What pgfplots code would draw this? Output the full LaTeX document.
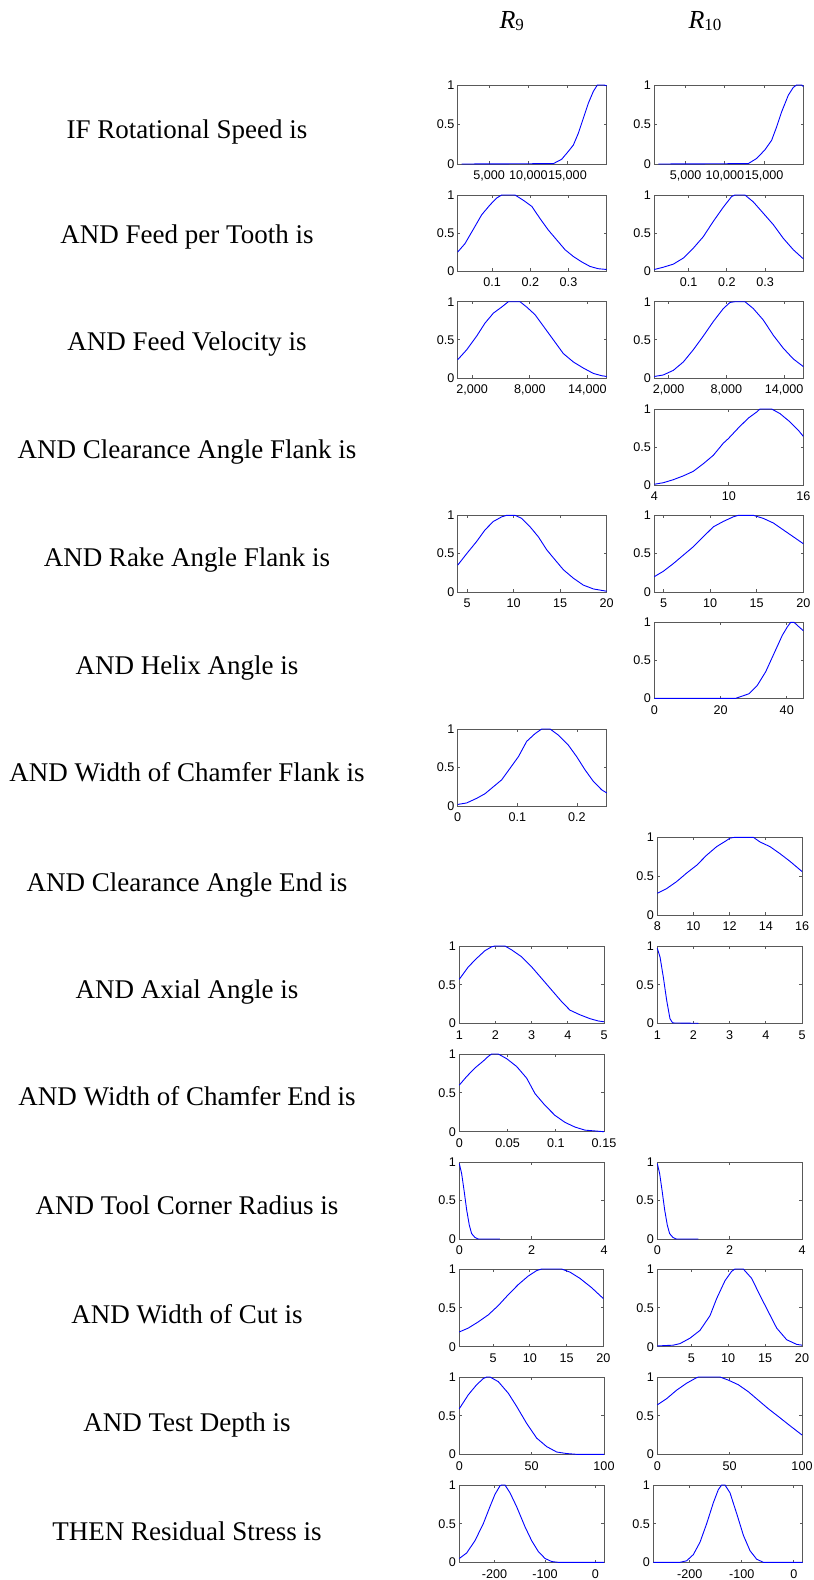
\documentclass[border=0pt]{standalone}
\usepackage{fontspec}
\setmainfont{Liberation Serif}
\newfontfamily\tickfamily{Liberation Sans}
\usepackage{pgfplots}
\pgfplotsset{compat=1.18}
\newcommand\tickfont{\tickfamily\fontsize{6.3}{7}\selectfont}
\newcommand\labfont{\fontsize{13.5}{16}\selectfont}
\pgfplotsset{
  fz/.style={scale only axis, anchor=north west, ymin=0, ymax=1,
    ytick={0,0.5,1}, yticklabels={0,0.5,1}, scaled ticks=false,
    axis line style={draw=black!65, line width=0.5pt},
    tick style={draw=black!65, line width=0.4pt}, major tick length=1.3pt,
    tick align=inside, tick label style={font=\tickfont},
    yticklabel style={inner sep=1.5pt},
    clip=false},
  cur/.style={blue, line width=0.45pt, mark=none}
}
\begin{document}
\begin{tikzpicture}
\useasboundingbox (0,0) rectangle (407pt,-790pt);
% titles
\node[anchor=base] at (255.85pt,-14.15pt) {\fontsize{13}{15}\selectfont\textit{R}\raisebox{-1.2pt}{\fontsize{8.5}{10}\selectfont 9}};
\node[anchor=base] at (352.5pt,-14.15pt) {\fontsize{13}{15}\selectfont\textit{R}\raisebox{-1.2pt}{\fontsize{8.5}{10}\selectfont 10}};
% row labels
\node[anchor=base] at (93.5pt,-69pt) {\labfont IF Rotational Speed is};
\node[anchor=base] at (93.5pt,-121.5pt) {\labfont AND Feed per Tooth is};
\node[anchor=base] at (93.5pt,-175.3pt) {\labfont AND Feed Velocity is};
\node[anchor=base] at (93.5pt,-229pt) {\labfont AND Clearance Angle Flank is};
\node[anchor=base] at (93.5pt,-283pt) {\labfont AND Rake Angle Flank is};
\node[anchor=base] at (93.5pt,-337pt) {\labfont AND Helix Angle is};
\node[anchor=base] at (93.5pt,-390.5pt) {\labfont AND Width of Chamfer Flank is};
\node[anchor=base] at (93.5pt,-445.5pt) {\labfont AND Clearance Angle End is};
\node[anchor=base] at (93.5pt,-499pt) {\labfont AND Axial Angle is};
\node[anchor=base] at (93.5pt,-552.5pt) {\labfont AND Width of Chamfer End is};
\node[anchor=base] at (93.5pt,-607pt) {\labfont AND Tool Corner Radius is};
\node[anchor=base] at (93.5pt,-661.5pt) {\labfont AND Width of Cut is};
\node[anchor=base] at (93.5pt,-715.5pt) {\labfont AND Test Depth is};
\node[anchor=base] at (93.5pt,-770pt) {\labfont THEN Residual Stress is};

% Row 1: Rotational speed
\begin{axis}[fz, at={(228.85pt,-42.5pt)}, width=74.5pt, height=39.5pt, xmin=1000, xmax=20000,
  xtick={5000,10000,15000}, xticklabels={{5,000},{10,000},{15,000}}]
\addplot[cur] coordinates {(1510,0) (13200,0.005) (14260,0.06) (15110,0.16) (15750,0.24) (16385,0.39) (17020,0.58) (17660,0.77) (18300,0.92) (18810,1) (19660,1) (20000,0.99)};
\end{axis}
\begin{axis}[fz, at={(327.15pt,-42.5pt)}, width=74.5pt, height=39.5pt, xmin=1000, xmax=20000,
  xtick={5000,10000,15000}, xticklabels={{5,000},{10,000},{15,000}}]
\addplot[cur] coordinates {(1510,0) (12985,0.005) (14050,0.07) (15110,0.18) (15960,0.30) (16600,0.47) (17235,0.66) (18085,0.87) (18725,0.97) (19150,1) (19785,1) (20000,0.98)};
\end{axis}

% Row 2: Feed per tooth
\begin{axis}[fz, at={(228.85pt,-97.5pt)}, width=74.5pt, height=38pt, xmin=0.01, xmax=0.40,
  xtick={0.1,0.2,0.3}, xticklabels={0.1,0.2,0.3}]
\addplot[cur] coordinates {(0.01,0.25) (0.029,0.36) (0.051,0.55) (0.0728,0.74) (0.0946,0.87) (0.112,0.96) (0.125,1) (0.160,1) (0.182,0.93) (0.204,0.85) (0.2255,0.69) (0.247,0.54) (0.269,0.41) (0.291,0.28) (0.313,0.19) (0.3345,0.12) (0.3564,0.06) (0.378,0.03) (0.40,0.02)};
\end{axis}
\begin{axis}[fz, at={(327.15pt,-97.5pt)}, width=74.5pt, height=38pt, xmin=0.01, xmax=0.40,
  xtick={0.1,0.2,0.3}, xticklabels={0.1,0.2,0.3}]
\addplot[cur] coordinates {(0.01,0.02) (0.0336,0.05) (0.0597,0.09) (0.0859,0.17) (0.112,0.30) (0.138,0.45) (0.164,0.65) (0.1906,0.84) (0.2124,0.98) (0.221,1) (0.2473,1) (0.269,0.91) (0.2953,0.76) (0.3215,0.61) (0.3476,0.43) (0.3738,0.28) (0.40,0.16)};
\end{axis}

% Row 3: Feed velocity
\begin{axis}[fz, at={(228.85pt,-150.85pt)}, width=74.5pt, height=38.15pt, xmin=500, xmax=16000,
  xtick={2000,8000,14000}, xticklabels={{2,000},{8,000},{14,000}}]
\addplot[cur] coordinates {(500,0.24) (1436,0.37) (2477,0.55) (3343,0.72) (4210,0.85) (5077,0.93) (5771,1) (6984,1) (7678,0.93) (8545,0.83) (9585,0.65) (10452,0.50) (11492,0.32) (12533,0.21) (13573,0.13) (14613,0.06) (15480,0.03) (16000,0.02)};
\end{axis}
\begin{axis}[fz, at={(327.15pt,-150.85pt)}, width=74.5pt, height=38.15pt, xmin=500, xmax=16000,
  xtick={2000,8000,14000}, xticklabels={{2,000},{8,000},{14,000}}]
\addplot[cur] coordinates {(500,0.02) (1436,0.04) (2477,0.10) (3517,0.21) (4557,0.37) (5597,0.55) (6638,0.74) (7678,0.91) (8371,0.99) (8892,1) (9932,1) (10799,0.91) (11839,0.76) (12879,0.56) (13920,0.39) (14960,0.25) (16000,0.15)};
\end{axis}

% Row 4: Clearance angle flank
\begin{axis}[fz, at={(327.15pt,-204.5pt)}, width=74.5pt, height=38pt, xmin=4, xmax=16,
  xtick={4,10,16}, xticklabels={4,10,16}]
\addplot[cur] coordinates {(4,0.01) (4.725,0.03) (5.53,0.07) (6.335,0.12) (7.14,0.18) (7.946,0.28) (8.75,0.39) (9.557,0.55) (9.96,0.61) (10.765,0.75) (11.57,0.88) (12.24,0.96) (12.51,1) (13.45,1) (14.12,0.94) (14.93,0.83) (15.6,0.72) (16,0.64)};
\end{axis}

% Row 5: Rake angle flank
\begin{axis}[fz, at={(228.85pt,-257.65pt)}, width=74.5pt, height=38.35pt, xmin=4, xmax=20,
  xtick={5,10,15,20}, xticklabels={5,10,15,20}]
\addplot[cur] coordinates {(4,0.35) (4.966,0.50) (6.04,0.66) (6.935,0.81) (7.83,0.92) (8.725,0.98) (9.26,1) (10.16,1) (10.87,0.96) (11.77,0.85) (12.66,0.72) (13.56,0.55) (14.45,0.42) (15.35,0.29) (16.42,0.18) (17.49,0.09) (18.57,0.04) (20,0.01)};
\end{axis}
\begin{axis}[fz, at={(327.15pt,-257.65pt)}, width=74.5pt, height=38.35pt, xmin=4, xmax=20,
  xtick={5,10,15,20}, xticklabels={5,10,15,20}]
\addplot[cur] coordinates {(4,0.20) (4.966,0.27) (6.04,0.37) (7.11,0.48) (8.19,0.59) (9.26,0.72) (10.34,0.85) (11.41,0.92) (12.48,0.98) (13.02,1) (14.63,1) (15.70,0.96) (16.78,0.90) (17.85,0.81) (18.93,0.72) (20,0.63)};
\end{axis}

% Row 6: Helix angle
\begin{axis}[fz, at={(327.15pt,-311.15pt)}, width=74.5pt, height=38pt, xmin=0, xmax=45,
  xtick={0,20,40}, xticklabels={0,20,40}]
\addplot[cur] coordinates {(0,0) (24.6,0) (26.6,0.03) (28.6,0.06) (31.1,0.17) (33.65,0.35) (36.16,0.59) (38.67,0.83) (40.18,0.94) (41.2,1) (42.2,1) (43.7,0.94) (45,0.89)};
\end{axis}

% Row 7: Width of chamfer flank
\begin{axis}[fz, at={(228.85pt,-364.5pt)}, width=74.5pt, height=38.5pt, xmin=0, xmax=0.25,
  xtick={0,0.1,0.2}, xticklabels={0,0.1,0.2}]
\addplot[cur] coordinates {(0,0.02) (0.0151,0.04) (0.0319,0.10) (0.0459,0.16) (0.0598,0.25) (0.0738,0.34) (0.0878,0.49) (0.1018,0.64) (0.1158,0.84) (0.1298,0.94) (0.141,1) (0.155,1) (0.169,0.92) (0.1857,0.79) (0.1997,0.64) (0.2136,0.47) (0.2276,0.32) (0.2416,0.21) (0.25,0.17)};
\end{axis}

% Row 8: Clearance angle end
\begin{axis}[fz, at={(328.65pt,-418.65pt)}, width=72.35pt, height=38.85pt, xmin=8, xmax=16,
  xtick={8,10,12,14,16}, xticklabels={8,10,12,14,16}]
\addplot[cur] coordinates {(8,0.28) (8.516,0.34) (9.069,0.43) (9.622,0.54) (10.175,0.64) (10.728,0.77) (11.28,0.88) (11.834,0.96) (12.018,0.99) (12.295,1) (13.31,1) (13.68,0.94) (14.23,0.88) (14.78,0.79) (15.34,0.69) (16,0.56)};
\end{axis}

% Row 9: Axial angle
\begin{axis}[fz, at={(229.65pt,-473pt)}, width=72.35pt, height=38.65pt, xmin=1, xmax=5,
  xtick={1,2,3,4,5}, xticklabels={1,2,3,4,5}]
\addplot[cur] coordinates {(1,0.57) (1.249,0.73) (1.479,0.84) (1.71,0.94) (1.894,0.99) (1.986,1) (2.263,1) (2.447,0.95) (2.724,0.86) (3.0,0.73) (3.277,0.58) (3.553,0.43) (3.83,0.28) (4.06,0.17) (4.336,0.11) (4.613,0.06) (4.843,0.03) (5,0.02)};
\end{axis}
\begin{axis}[fz, at={(328.65pt,-473pt)}, width=72.35pt, height=38.65pt, xmin=1, xmax=5,
  xtick={1,2,3,4,5}, xticklabels={1,2,3,4,5}]
\addplot[cur] coordinates {(1,0.97) (1.074,0.86) (1.166,0.60) (1.258,0.30) (1.35,0.06) (1.424,0.005) (2.134,0)};
\end{axis}

% Row 10: Width of chamfer end
\begin{axis}[fz, at={(229.65pt,-527pt)}, width=72.35pt, height=38.85pt, xmin=0, xmax=0.15,
  xtick={0,0.05,0.1,0.15}, xticklabels={0,0.05,0.1,0.15}]
\addplot[cur] coordinates {(0,0.60) (0.0076,0.71) (0.0162,0.82) (0.0249,0.91) (0.0301,0.97) (0.0335,1) (0.0404,1) (0.0491,0.94) (0.0594,0.84) (0.0698,0.69) (0.0785,0.49) (0.0888,0.34) (0.0992,0.21) (0.1096,0.12) (0.1199,0.06) (0.1303,0.02) (0.1407,0.01) (0.15,0)};
\end{axis}

% Row 11: Tool corner radius
\begin{axis}[fz, at={(229.65pt,-581pt)}, width=72.35pt, height=38.5pt, xmin=0, xmax=4,
  xtick={0,2,4}, xticklabels={0,2,4}]
\addplot[cur] coordinates {(0,0.98) (0.0645,0.85) (0.129,0.64) (0.203,0.38) (0.2765,0.18) (0.341,0.07) (0.433,0.02) (0.525,0) (1.124,0)};
\end{axis}
\begin{axis}[fz, at={(328.65pt,-581pt)}, width=72.35pt, height=38.5pt, xmin=0, xmax=4,
  xtick={0,2,4}, xticklabels={0,2,4}]
\addplot[cur] coordinates {(0,0.98) (0.0645,0.85) (0.129,0.64) (0.203,0.38) (0.2765,0.18) (0.341,0.07) (0.433,0.02) (0.525,0) (1.134,0)};
\end{axis}

% Row 12: Width of cut
\begin{axis}[fz, at={(229.65pt,-634.5pt)}, width=72pt, height=38.85pt, xmin=0.4, xmax=20,
  xtick={5,10,15,20}, xticklabels={5,10,15,20}]
\addplot[cur] coordinates {(0.4,0.19) (1.625,0.24) (2.986,0.32) (4.347,0.41) (5.708,0.53) (7.07,0.67) (8.43,0.80) (9.79,0.91) (10.93,0.98) (11.61,1) (14.33,1) (15.46,0.96) (16.82,0.88) (18.41,0.76) (20,0.62)};
\end{axis}
\begin{axis}[fz, at={(328.65pt,-634.5pt)}, width=72.35pt, height=38.85pt, xmin=0.4, xmax=20,
  xtick={5,10,15,20}, xticklabels={5,10,15,20}]
\addplot[cur] coordinates {(0.4,0.01) (2.57,0.02) (3.47,0.04) (4.83,0.11) (6.18,0.21) (7.54,0.40) (8.44,0.62) (9.57,0.85) (10.47,0.97) (10.92,1) (12.05,1) (13.18,0.88) (14.31,0.66) (15.44,0.45) (16.57,0.24) (17.92,0.09) (19.28,0.03) (20,0.02)};
\end{axis}

% Row 13: Test depth
\begin{axis}[fz, at={(229.65pt,-688.5pt)}, width=72.35pt, height=38.65pt, xmin=0, xmax=100,
  xtick={0,50,100}, xticklabels={0,50,100}]
\addplot[cur] coordinates {(0,0.59) (6.22,0.77) (11.98,0.90) (16.59,0.98) (18.89,1) (21.2,1) (26.96,0.94) (33.87,0.79) (39.63,0.62) (46.54,0.40) (53.46,0.21) (60.37,0.10) (67.28,0.03) (74.19,0.01) (81.1,0) (100,0)};
\end{axis}
\begin{axis}[fz, at={(328.65pt,-688.5pt)}, width=72.35pt, height=38.65pt, xmin=0, xmax=100,
  xtick={0,50,100}, xticklabels={0,50,100}]
\addplot[cur] coordinates {(0,0.64) (6.45,0.72) (13.36,0.83) (20.28,0.92) (26.04,0.98) (28.34,1) (43.32,1) (49.08,0.96) (55.99,0.90) (62.9,0.81) (69.8,0.70) (76.7,0.59) (83.6,0.49) (91.7,0.37) (100,0.25)};
\end{axis}

% Row 14: Residual stress
\begin{axis}[fz, at={(229.65pt,-742.5pt)}, width=72.35pt, height=38.65pt, xmin=-270, xmax=17,
  xtick={-200,-100,0}, xticklabels={-200,-100,0}]
\addplot[cur] coordinates {(-270,0.05) (-255.5,0.12) (-238.9,0.28) (-222.4,0.50) (-209.2,0.72) (-199.2,0.88) (-189.3,0.99) (-186,1) (-179.4,1) (-169.5,0.90) (-156.3,0.72) (-139.7,0.46) (-126.5,0.28) (-113.3,0.14) (-100,0.05) (-86.8,0.01) (-73.6,0) (17,0)};
\end{axis}
\begin{axis}[fz, at={(326.65pt,-742.5pt)}, width=74.7pt, height=38.65pt, xmin=-270, xmax=17,
  xtick={-200,-100,0}, xticklabels={-200,-100,0}]
\addplot[cur] coordinates {(-270,0) (-218.8,0) (-205.9,0.02) (-193.1,0.10) (-180.3,0.26) (-167.5,0.50) (-154.7,0.77) (-145.1,0.94) (-138.7,1) (-132.3,1) (-122.7,0.90) (-109.8,0.63) (-97.0,0.35) (-84.2,0.15) (-71.4,0.04) (-58.6,0) (17,0)};
\end{axis}
\end{tikzpicture}
\end{document}
